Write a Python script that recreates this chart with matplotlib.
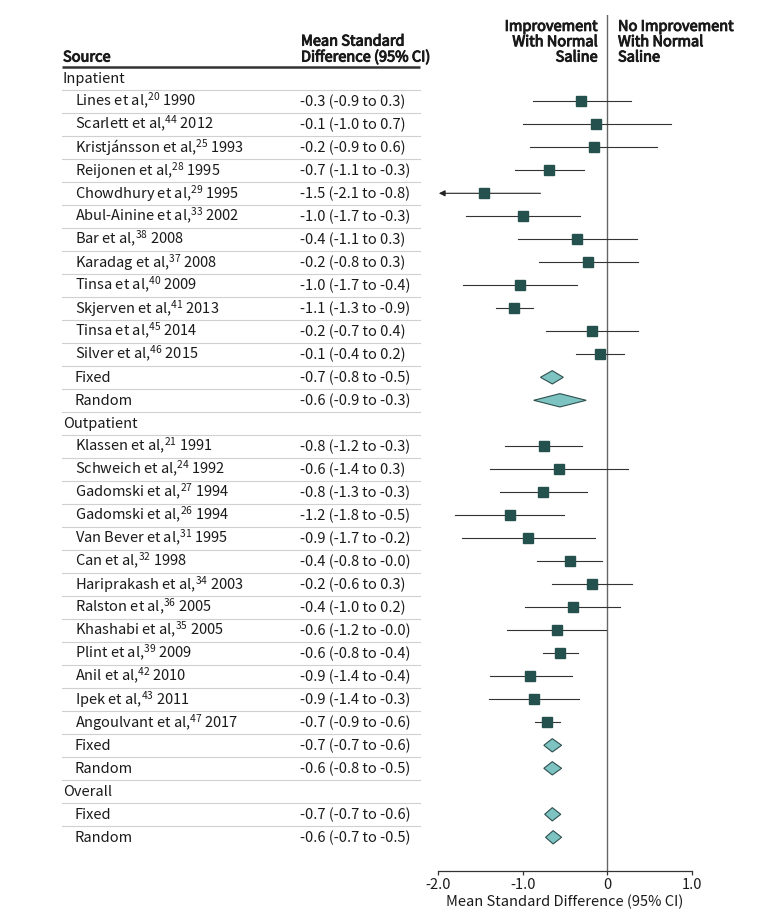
import matplotlib
matplotlib.use("Agg")
import matplotlib.pyplot as plt
import matplotlib.patheffects as pe
from matplotlib.patches import Polygon

FONT = 'Noto Sans CJK SC'
plt.rcParams['font.family'] = [FONT, 'DejaVu Sans']
plt.rcParams['mathtext.fontset'] = 'custom'
plt.rcParams['mathtext.rm'] = FONT
plt.rcParams['mathtext.it'] = FONT
plt.rcParams['mathtext.bf'] = FONT + ':bold'

# ---- data ----
inpatient_names = ["Lines et al", "Scarlett et al", "Kristjánsson et al", "Reijonen et al",
                   "Chowdhury et al", "Abul-Ainine et al", "Bar et al", "Karadag et al",
                   "Tinsa et al", "Skjerven et al", "Tinsa et al", "Silver et al"]
inpatient_refs = [20, 44, 25, 28, 29, 33, 38, 37, 40, 41, 45, 46]
inpatient_years = [1990, 2012, 1993, 1995, 1995, 2002, 2008, 2008, 2009, 2013, 2014, 2015]
inpatient_ci = ["-0.3 (-0.9 to 0.3)", "-0.1 (-1.0 to 0.7)", "-0.2 (-0.9 to 0.6)",
                "-0.7 (-1.1 to -0.3)", "-1.5 (-2.1 to -0.8)", "-1.0 (-1.7 to -0.3)",
                "-0.4 (-1.1 to 0.3)", "-0.2 (-0.8 to 0.3)", "-1.0 (-1.7 to -0.4)",
                "-1.1 (-1.3 to -0.9)", "-0.2 (-0.7 to 0.4)", "-0.1 (-0.4 to 0.2)"]
inpatient_est = [-0.31, -0.13, -0.16, -0.69, -1.46, -1.00, -0.36, -0.23, -1.03, -1.10, -0.18, -0.09]
inpatient_lo = [-0.88, -1.00, -0.91, -1.09, -2.10, -1.67, -1.05, -0.81, -1.71, -1.31, -0.72, -0.37]
inpatient_hi = [0.28, 0.75, 0.59, -0.28, -0.79, -0.32, 0.35, 0.36, -0.36, -0.88, 0.36, 0.20]

outpatient_names = ["Klassen et al", "Schweich et al", "Gadomski et al", "Gadomski et al",
                    "Van Bever et al", "Can et al", "Hariprakash et al", "Ralston et al",
                    "Khashabi et al", "Plint et al", "Anil et al", "Ipek et al", "Angoulvant et al"]
outpatient_refs = [21, 24, 27, 26, 31, 32, 34, 36, 35, 39, 42, 43, 47]
outpatient_years = [1991, 1992, 1994, 1994, 1995, 1998, 2003, 2005, 2005, 2009, 2010, 2011, 2017]
outpatient_ci = ["-0.8 (-1.2 to -0.3)", "-0.6 (-1.4 to 0.3)", "-0.8 (-1.3 to -0.3)",
                 "-1.2 (-1.8 to -0.5)", "-0.9 (-1.7 to -0.2)", "-0.4 (-0.8 to -0.0)",
                 "-0.2 (-0.6 to 0.3)", "-0.4 (-1.0 to 0.2)", "-0.6 (-1.2 to -0.0)",
                 "-0.6 (-0.8 to -0.4)", "-0.9 (-1.4 to -0.4)", "-0.9 (-1.4 to -0.3)",
                 "-0.7 (-0.9 to -0.6)"]
outpatient_est = [-0.75, -0.57, -0.76, -1.15, -0.94, -0.44, -0.18, -0.41, -0.60, -0.56, -0.91, -0.87, -0.71]
outpatient_lo = [-1.21, -1.38, -1.27, -1.80, -1.72, -0.83, -0.65, -0.97, -1.18, -0.76, -1.39, -1.40, -0.86]
outpatient_hi = [-0.30, 0.25, -0.24, -0.51, -0.15, -0.06, 0.29, 0.15, -0.01, -0.35, -0.42, -0.33, -0.56]

# pooled estimates
pooled_groups = ["Inpatient", "Inpatient", "Outpatient", "Outpatient", "Overall", "Overall"]
pooled_models = ["Fixed", "Random", "Fixed", "Random", "Fixed", "Random"]
pooled_ci = ["-0.7 (-0.8 to -0.5)", "-0.6 (-0.9 to -0.3)", "-0.7 (-0.7 to -0.6)",
             "-0.6 (-0.8 to -0.5)", "-0.7 (-0.7 to -0.6)", "-0.6 (-0.7 to -0.5)"]
pooled_est = [-0.65, -0.56, -0.65, -0.65, -0.65, -0.64]
pooled_lo = [-0.79, -0.87, -0.75, -0.75, -0.74, -0.73]
pooled_hi = [-0.52, -0.25, -0.54, -0.54, -0.55, -0.54]

xticks = [-2.0, -1.0, 0, 1.0]
xticklabels = ["-2.0", "-1.0", "0", "1.0"]

# ---- build the row list ----
rows = []  # (kind, label, ci_text, est, lo, hi)
studies = {
    "Inpatient": (inpatient_names, inpatient_refs, inpatient_years, inpatient_ci,
                  inpatient_est, inpatient_lo, inpatient_hi),
    "Outpatient": (outpatient_names, outpatient_refs, outpatient_years, outpatient_ci,
                   outpatient_est, outpatient_lo, outpatient_hi),
    "Overall": None,
}
for grp in ["Inpatient", "Outpatient", "Overall"]:
    rows.append(("group", grp, "", None, None, None))
    if studies[grp] is not None:
        nm, rf, yr, ci, es, lo, hi = studies[grp]
        for k in range(len(nm)):
            label = "%s,$^{%d}$ %d" % (nm[k], rf[k], yr[k])
            rows.append(("study", label, ci[k], es[k], lo[k], hi[k]))
    for k in range(len(pooled_groups)):
        if pooled_groups[k] == grp:
            rows.append(("pooled", pooled_models[k], pooled_ci[k],
                         pooled_est[k], pooled_lo[k], pooled_hi[k]))

n = len(rows)

W, H = 780, 922
fig = plt.figure(figsize=(W / 100, H / 100), dpi=100)

# vertical geometry (pixels): first row centre at 78.3, row pitch 23, axis at 871, top 15
row0, pitch = 78.3, 23.0
y_top_px, y_bot_px = 15.0, 871.0
ylim_top = (y_top_px - row0) / pitch
ylim_bot = (y_bot_px - row0) / pitch
ax_b = 1 - y_bot_px / H
ax_h = (y_bot_px - y_top_px) / H

# table axes (x in pixels)
tab = fig.add_axes([0, ax_b, 1, ax_h])
tab.set_xlim(0, W)
tab.set_ylim(ylim_bot, ylim_top)
tab.axis('off')

# forest axes
x0_px, x1_px = 438.0, 692.0
ax = fig.add_axes([x0_px / W, ax_b, (x1_px - x0_px) / W, ax_h])
ax.set_xlim(-2.0, 1.0)
ax.set_ylim(ylim_bot, ylim_top)
ax.patch.set_alpha(0)

fs = 10.5
hfs = 10.5
txtcol = "#1a1a1a"
sq_col = "#24504d"
dm_face = "#7cc3c1"
dm_edge = "#2f4f4f"
base = 0.22
hdr_base = -0.73
# semibold look without widening the glyphs
heavy = [pe.withStroke(linewidth=0.7, foreground=txtcol)]

# header
hdr_kw = dict(fontsize=hfs, color=txtcol, va='baseline', linespacing=1.12,
              path_effects=heavy)
tab.text(63, hdr_base, "Source", ha='left', **hdr_kw)
tab.text(301, hdr_base, "Mean Standard\nDifference (95% CI)", ha='left', **hdr_kw)
tab.plot([62, 420], [-0.5, -0.5], color="#333333", lw=1.8, solid_capstyle='butt')
tab.text(598, hdr_base, "Improvement\nWith Normal\nSaline", ha='right', **hdr_kw)
tab.text(618, hdr_base, "No Improvement\nWith Normal\nSaline", ha='left', **hdr_kw)

for i, (kind, label, ci, est, lo, hi) in enumerate(rows):
    xlab = 63 if kind == "group" else 75
    tab.text(xlab, i + base, label, fontsize=fs, color=txtcol, va='baseline', ha='left')
    if ci:
        tab.text(300, i + base, ci, fontsize=fs, color=txtcol, va='baseline', ha='left')
    if i < n - 1:
        tab.plot([62, 420], [i + 0.5, i + 0.5], color="#d0d0d0", lw=0.8)

    if kind == "study":
        if lo < -2.0:
            ax.annotate("", xy=(-1.99, i), xytext=(hi, i),
                        arrowprops=dict(arrowstyle='-|>', color="#222222", lw=0.8,
                                        mutation_scale=9, shrinkA=0, shrinkB=0))
        else:
            ax.plot([lo, hi], [i, i], color="#333333", lw=0.8)
        ax.plot(est, i, marker='s', ms=7, color=sq_col, mec=sq_col, zorder=3)
    elif kind == "pooled":
        h = 0.29
        ax.add_patch(Polygon([(lo, i), (est, i - h), (hi, i), (est, i + h)],
                             closed=True, facecolor=dm_face, edgecolor=dm_edge, lw=0.8,
                             zorder=3))

ax.axvline(0, color="#666666", lw=1.0, zorder=1)

for s in ['top', 'right', 'left']:
    ax.spines[s].set_visible(False)
ax.spines['bottom'].set_color("#333333")
ax.spines['bottom'].set_linewidth(0.9)
ax.set_yticks([])
ax.set_xticks(xticks)
ax.set_xticklabels(xticklabels, fontsize=fs, color=txtcol)
ax.tick_params(axis='x', direction='out', length=3, width=0.9, color="#333333", pad=2)
ax.set_xlabel("Mean Standard Difference (95% CI)", fontsize=fs, color=txtcol, labelpad=2)

fig.savefig("out.png", dpi=100)
